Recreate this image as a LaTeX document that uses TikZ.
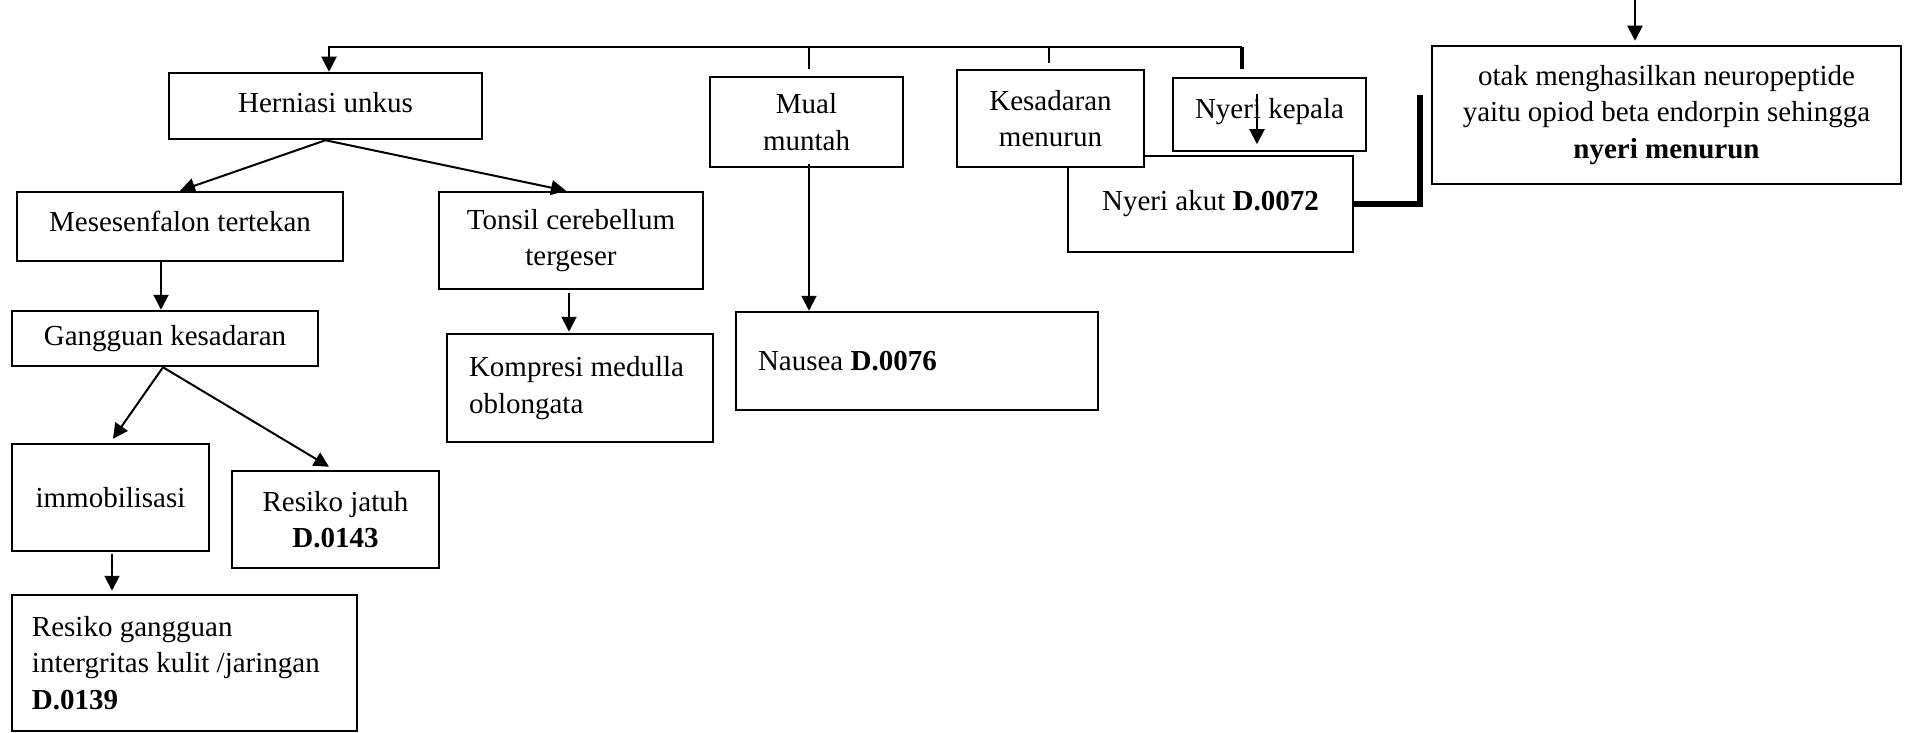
\documentclass[tikz,border=0pt]{standalone}
\usepackage{fontspec}
\setmainfont{Liberation Serif}
\usetikzlibrary{arrows.meta,calc}
\begin{document}
\begin{tikzpicture}[x=0.5pt,y=-0.5pt,
  box/.style={draw, line width=1.25pt, fill=white, inner sep=0pt,
    font=\fontsize{14.5}{18.25}\selectfont, align=center},
  sz/.style 2 args={minimum width=#1*0.5pt, minimum height=#2*0.5pt},
  lbox/.style={box, align=flush left, text width=#1*0.5pt},
  conn/.style={line width=1pt},
  arr/.style={conn, -{Triangle[width=7.5pt,length=7.5pt]}},
]
\useasboundingbox (0,0) rectangle (1908,733);

% left branch
\node[box, sz={313}{66}] (herniasi) at (325.5,106) {\raisebox{3.5pt}{Herniasi unkus}};
\node[box, sz={326}{69}] (meses) at (180,226.5) {\raisebox{5pt}{Mesesenfalon tertekan}};
\node[box, sz={264}{97}] (tonsil) at (571,240.5) {Tonsil cerebellum\\tergeser};
\node[box, sz={306}{55}] (gangguan) at (165,338.5) {\raisebox{-1.2pt}{Gangguan kesadaran}};
\node[box, sz={197}{107}] (immob) at (110.5,497.5) {immobilisasi};
\node[box, sz={207}{97}] (jatuh) at (335.5,519.5) {Resiko jatuh\\\textbf{D.0143}};
\node[lbox=305, sz={345}{136}] (resikoG) at (184.5,663) {Resiko gangguan\\intergritas kulit /jaringan\\\textbf{D.0139}};
\node[lbox=222, sz={266}{108}] (kompresi) at (580,388) {Kompresi medulla\\oblongata};

% middle / right
\node[box, sz={193}{90}] (mual) at (806.5,122) {Mual\\muntah};
\node[lbox=318, sz={362}{98}] (nausea) at (917,361) {Nausea \textbf{D.0076}};
\node[box, sz={285}{96}] (akut) at (1210.5,204) {Nyeri akut \textbf{D.0072}};
\node[box, sz={187}{97}] (kesadaran) at (1050.5,118.5) {Kesadaran\\menurun};
\node[box, sz={193}{73}] (kepala) at (1269.5,114.5) {\raisebox{5.75pt}{Nyeri kepala}};
\node[box, sz={469}{138}] (otak) at (1666.5,115) {otak menghasilkan neuropeptide\\yaitu opiod beta endorpin sehingga\\\textbf{nyeri menurun}};

% top connector
\coordinate (hA) at (329,47);
\coordinate (tR) at (1242,69);
\coordinate (mT) at (809,69);
\coordinate (kT) at (1049,63);
\draw[arr] (tR |- hA) -- (hA) -- (hA |- herniasi.north);
\draw[line width=1.75pt] (tR) -- (tR |- hA);
\draw[conn] (mT) -- (mT |- hA);
\draw[conn] (kT) -- (kT |- hA);

% arrows
\draw[arr] (herniasi.south) -- (meses.north);
\draw[arr] (herniasi.south) -- ($(tonsil.north)+(-5,0)$);
\draw[arr] ($(meses.south)+(-19,0)$) -- ($(gangguan.north)+(-4,0)$);
\draw[arr] ($(gangguan.south)+(-2,0)$) -- ($(immob.north)+(2.5,-4)$);
\draw[arr] ($(gangguan.south)+(-2,0)$) -- ($(jatuh.north)+(-6.5,-3)$);
\draw[arr] ($(immob.south)+(1.5,2)$) -- ($(immob.south |- resikoG.north)+(1.5,-3)$);
\draw[arr] ($(tonsil.south)+(-2,3)$) -- ($(tonsil.south |- kompresi.north)+(-2,-1)$);
\draw[arr] ($(mual.south)+(2.5,-4)$) -- ($(mual.south |- nausea.north)+(2.5,0)$);
\draw[arr] ($(kepala.north)+(-12.5,17)$) -- ($(kepala.south)+(-12.5,-8)$);

% thick connector
\coordinate (thk) at (1420,95);
\draw[line width=2.75pt] (akut.east) -| (thk);

% top right arrow
\coordinate (otop) at (1635,-2);
\draw[arr] (otop) -- ($(otop |- otak.north)+(0,-4)$);
\end{tikzpicture}
\end{document}
